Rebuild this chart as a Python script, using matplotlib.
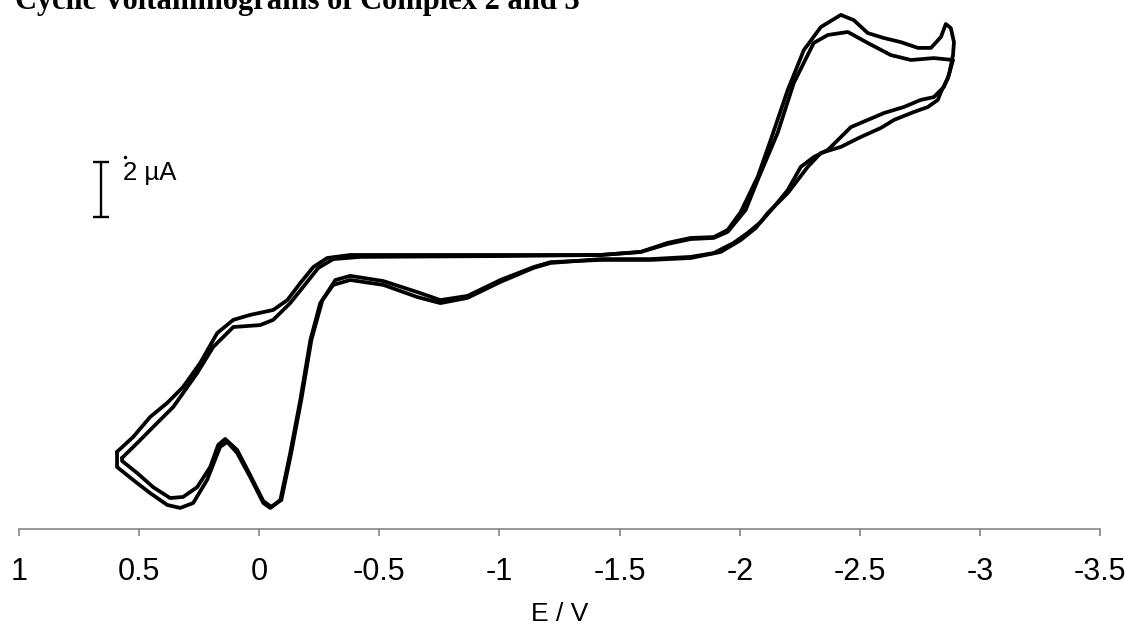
import matplotlib
matplotlib.use("Agg")
import matplotlib.pyplot as plt

# potential (V) and current (uA) for the two cyclic voltammograms
e_complex2 = [
    0.592, 0.525, 0.454, 0.383, 0.317, 0.246, 0.175, 0.108, 0.038, -0.058,
    -0.117, -0.171, -0.225, -0.283, -0.379, -0.796, -1.213, -1.421, -1.588, -1.7,
    -1.796, -1.892, -1.95, -2.004, -2.075, -2.129, -2.2, -2.267, -2.338, -2.421,
    -2.475, -2.533, -2.6, -2.671, -2.742, -2.796, -2.838, -2.858, -2.879, -2.892,
    -2.888, -2.871, -2.85, -2.808, -2.754, -2.683, -2.6, -2.463, -2.367, -2.308,
    -2.254, -2.2, -2.142, -2.088, -2.033, -1.975, -1.892, -1.796, -1.629, -1.421,
    -1.213, -1.142, -1.004, -0.867, -0.754, -0.658, -0.517, -0.379, -0.308, -0.254,
    -0.213, -0.171, -0.129, -0.088, -0.046, -0.017, 0.038, 0.092, 0.133, 0.163,
    0.217, 0.275, 0.329, 0.383, 0.454, 0.525, 0.592, 0.592,
]
i_complex2 = [
    -7.05, -6.51, -5.78, -5.27, -4.69, -3.82, -2.73, -2.25, -2.07, -1.89,
    -1.53, -0.91, -0.33, 0.0, 0.11, 0.11, 0.11, 0.11, 0.22, 0.55,
    0.73, 0.76, 1.02, 1.67, 2.95, 4.29, 6.11, 7.56, 8.4, 8.84,
    8.65, 8.18, 8.0, 7.85, 7.64, 7.64, 8.04, 8.51, 8.36, 7.85,
    7.38, 6.65, 6.22, 5.85, 5.75, 5.49, 5.27, 4.76, 3.93, 3.67,
    3.31, 2.47, 1.85, 1.31, 0.91, 0.55, 0.18, 0.04, -0.04, -0.04,
    -0.18, -0.36, -0.87, -1.45, -1.64, -1.42, -0.98, -0.8, -0.98, -1.64,
    -2.98, -5.16, -7.09, -8.8, -9.09, -8.91, -7.96, -7.09, -6.69, -6.87,
    -8.07, -8.91, -9.09, -8.98, -8.55, -8.07, -7.6, -7.05,
]

e_complex3 = [
    0.571, 0.508, 0.425, 0.358, 0.258, 0.192, 0.108, -0.004, -0.058, -0.129,
    -0.183, -0.246, -0.308, -0.421, -1.004, -1.421, -1.588, -1.7, -1.796, -1.892,
    -1.95, -2.025, -2.075, -2.158, -2.225, -2.308, -2.367, -2.45, -2.533, -2.629,
    -2.713, -2.808, -2.888, -2.867, -2.838, -2.825, -2.783, -2.725, -2.642, -2.588,
    -2.504, -2.421, -2.338, -2.283, -2.2, -2.117, -2.067, -2.004, -1.921, -1.796,
    -1.629, -1.421, -1.213, -1.142, -1.004, -0.867, -0.754, -0.658, -0.517, -0.379,
    -0.317, -0.263, -0.217, -0.175, -0.133, -0.092, -0.05, -0.017, 0.038, 0.092,
    0.142, 0.171, 0.204, 0.258, 0.317, 0.371, 0.442, 0.508, 0.571, 0.571,
]
i_complex3 = [
    -7.27, -6.73, -6.0, -5.42, -4.18, -3.24, -2.51, -2.44, -2.25, -1.64,
    -1.05, -0.36, -0.04, 0.04, 0.07, 0.11, 0.22, 0.51, 0.69, 0.73,
    0.95, 1.75, 2.84, 4.55, 6.36, 7.82, 8.11, 8.22, 7.82, 7.38,
    7.2, 7.27, 7.2, 6.55, 6.04, 5.75, 5.49, 5.31, 5.02, 4.73,
    4.4, 4.04, 3.82, 3.31, 2.36, 1.64, 1.09, 0.65, 0.22, 0.0,
    -0.07, -0.07, -0.15, -0.33, -0.8, -1.38, -1.53, -1.24, -0.84, -0.65,
    -0.8, -1.53, -2.98, -5.16, -7.09, -8.8, -9.05, -8.84, -7.89, -6.98,
    -6.58, -6.8, -7.6, -8.33, -8.69, -8.73, -8.33, -7.82, -7.38, -7.27,
]

x_ticks = [1, 0.5, 0, -0.5, -1, -1.5, -2, -2.5, -3, -3.5]
x_tick_labels = ["1", "0.5", "0", "-0.5", "-1", "-1.5", "-2", "-2.5", "-3", "-3.5"]

title = "Cyclic Voltammograms of Complex 2 and 3"
scale_bar_e = 0.658
scale_bar_i = (1.49, 3.49)

fig = plt.figure(figsize=(11.25, 6.25), dpi=100)
ax = fig.add_axes([0.0169, 0.1536, 0.9609, 0.8464])

for e, i in [(e_complex2, i_complex2), (e_complex3, i_complex3)]:
    ax.plot(e, i, color="black", linewidth=2.7,
            solid_joinstyle="round", solid_capstyle="round")

# scale bar
bar_mid = (scale_bar_i[0] + scale_bar_i[1]) / 2
bar_half = (scale_bar_i[1] - scale_bar_i[0]) / 2
ax.errorbar([scale_bar_e], [bar_mid], yerr=[bar_half], color="black",
            linewidth=1.7, capsize=6, capthick=1.7, fmt="none")
ax.text(0.567, 3.08, "2 \u00b5A", fontsize=18.5, family="Liberation Sans",
        ha="left", va="center")
ax.plot([0.558], [3.67], marker="o", markersize=1.5, color="black")

ax.set_xlim(1, -3.5)
ax.set_ylim(-9.855, 9.382)
ax.set_xticks(x_ticks)
ax.set_xticklabels(x_tick_labels, fontsize=22, family="Liberation Sans")
ax.set_yticks([])
for side in ["left", "right", "top"]:
    ax.spines[side].set_visible(False)
ax.spines["bottom"].set_color("#868686")
ax.spines["bottom"].set_linewidth(1.2)
ax.tick_params(axis="x", direction="out", length=5, width=1.2,
               color="#868686", pad=15)

fig.text(560 / 1125, 1 - 614 / 625, "E / V", fontsize=19,
         family="Liberation Sans", ha="center", va="center")
fig.text(15 / 1125, 1 - 8.5 / 625, title, fontsize=22, fontweight="bold",
         family="Liberation Serif", ha="left", va="baseline")

fig.savefig("out.png", dpi=100)
